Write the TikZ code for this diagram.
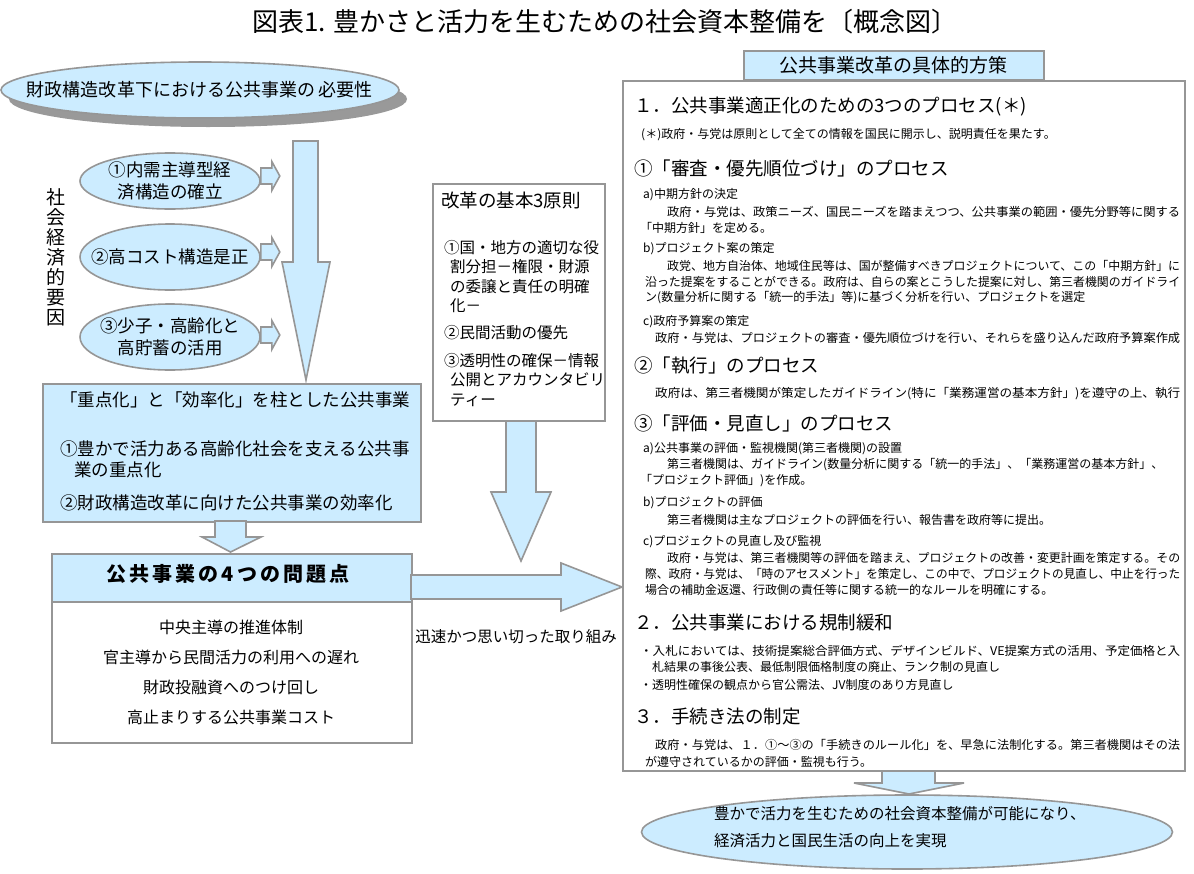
\documentclass[tikz,border=0pt]{standalone}
\usepackage{fontspec}
\usepackage{graphicx}
\setmainfont{Noto Sans CJK JP}
\usetikzlibrary{shapes.geometric,shadows,calc}
\definecolor{lb}{HTML}{CCECFF}
\definecolor{bd}{HTML}{969696}
\definecolor{sh}{HTML}{999999}
\newcommand\fitw[2]{\resizebox{#1pt}{\height}{#2}}
\begin{document}
\begin{tikzpicture}[x=1pt,y=-1pt,
 every node/.style={inner sep=0pt},
 boxb/.style={draw=bd, line width=1.6pt, fill=lb, anchor=north west},
 boxw/.style={draw=bd, line width=1.6pt, fill=white, anchor=north west},
 blk/.style={draw=bd, line width=1.6pt, fill=lb, line join=miter},
 oval/.style={ellipse, draw=bd, line width=1.6pt, fill=lb},
 ovt/.style={align=center, font=\fontsize{17.5}{22}\selectfont},
 sm/.style={anchor=west, font=\fontsize{12}{14}\selectfont},
 hd/.style={anchor=west, font=\fontsize{18.5}{22}\selectfont},
 lt/.style={anchor=west, font=\fontsize{17.5}{21}\selectfont},
 pr/.style={anchor=west, font=\fontsize{15.5}{19}\selectfont},
 pb/.style={font=\fontsize{16}{19}\selectfont},
 rarr/.pic={\draw[blk] (0,-8) -- (11,-8) -- (11,-14.5) -- (19,0) -- (11,14.5) -- (11,8) -- (0,8) -- cycle;}
]
\useasboundingbox[fill=white] (0,0) rectangle (1194,873);

% title
\node[font=\fontsize{26}{30}\selectfont] (title) at (605,22) {図表1. 豊かさと活力を生むための社会資本整備を〔概念図〕};

% top-left ellipse
\node[oval, minimum width=398, minimum height=56,
  drop shadow={shadow xshift=8pt, shadow yshift=-9pt, fill=sh, opacity=1}] (need) at (200,90) {};
\node[font=\fontsize{18}{22}\selectfont] (needt) at (need.center) {財政構造改革下における公共事業の\hspace{4pt}必要性};

% vertical label
\node[font=\fontsize{19}{20}\selectfont, align=center] (factor) at (56,257) {社\\会\\経\\済\\的\\要\\因};

% big down arrow
\draw[blk] (293,141) -- (318,141) -- (318,262) -- (330,262) -- (306,380) -- (282,262) -- (293,262) -- cycle;

% three factor ellipses
\node[oval, minimum width=180, minimum height=56] (e1) at (170,181) {};
\node[oval, minimum width=180, minimum height=66] (e2) at (170,257) {};
\node[oval, minimum width=180, minimum height=66] (e3) at (170,337) {};
\node[ovt] (e1t) at (e1.center) {①内需主導型経\\済構造の確立};
\node[ovt] (e2t) at (e2.center) {②高コスト構造是正};
\node[ovt] (e3t) at (e3.center) {③少子・高齢化と\\高貯蓄の活用};
\pic at ($(e1.east)+(0,-5)$) {rarr};
\pic at ($(e2.east)+(0,-5)$) {rarr};
\pic at ($(e3.east)+(0,-2)$) {rarr};

% focus box
\node[boxb, minimum width=378, minimum height=138] (focus) at (42,383) {};
\node[lt] (f0) at (60,400) {「重点化」と「効率化」を柱とした公共事業};
\node[lt] (f1) at (60,449) {①豊かで活力ある高齢化社会を支える公共事};
\node[lt] (f2) at (74,470) {業の重点化};
\node[lt] (f3) at (60,503) {②財政構造改革に向けた公共事業の効率化};

% small down arrow
\draw[blk] (215,521) -- (246,521) -- (246,537) -- (261,537) -- (230.5,552) -- (202,537) -- (215,537) -- cycle;

% problems box
\node[boxb, minimum width=360, minimum height=48] (probhead) at (51,553) {};
\node[boxw, minimum width=360, minimum height=141] (probbody) at (51,601) {};
\node[font=\fontsize{20}{24}\bfseries\addfontfeature{LetterSpace=15}\selectfont] (ph) at (228,574) {公共事業の4つの問題点};
\node[pb] (p1) at (231,627) {中央主導の推進体制};
\node[pb] (p2) at (231,657) {官主導から民間活力の利用への遅れ};
\node[pb] (p3) at (231,687) {財政投融資へのつけ回し};
\node[pb] (p4) at (231,717) {高止まりする公共事業コスト};

% right arrow
\draw[blk] (411,575) -- (561,575) -- (561,563) -- (622,587) -- (561,611) -- (561,599) -- (411,599) -- cycle;
\node[font=\fontsize{15.5}{19}\selectfont] (quick) at (516,637) {迅速かつ思い切った取り組み};

% principles box
\node[boxw, minimum width=172, minimum height=237] (gensoku) at (432,183) {};
\node[anchor=west, font=\fontsize{18.5}{22}\selectfont] (g0) at (441,200) {改革の基本3原則};
\node[pr] (g1) at (444,248) {①国・地方の適切な役};
\node[pr] (g2) at (450,267) {割分担－権限・財源};
\node[pr] (g3) at (450,287) {の委譲と責任の明確};
\node[pr] (g4) at (450,306) {化－};
\node[pr] (g5) at (444,333) {②民間活動の優先};
\node[pr] (g6) at (444,361) {③透明性の確保－情報};
\node[pr] (g7) at (450,380) {公開とアカウンタビリ};
\node[pr] (g8) at (450,400) {ティー};

% down arrow from principles
\draw[blk] (506,421) -- (536,421) -- (536,492) -- (551,492) -- (521,561) -- (491,492) -- (506,492) -- cycle;

% right panel
\node[boxw, minimum width=562, minimum height=690] (panel) at (622,80) {};
\node[boxb, minimum width=300, minimum height=29] (panelhead) at (743,50) {};
\node[font=\fontsize{19}{22}\selectfont] (panelt) at (893,65) {公共事業改革の具体的方策};

\node[hd] (h1) at (634,107) {１．公共事業適正化のための3つのプロセス(＊)};
\node[sm] (s1) at (641,135) {(＊)政府・与党は原則として全ての情報を国民に開示し、説明責任を果たす。};
\node[hd] (h2) at (634,168) {①「審査・優先順位づけ」のプロセス};
\node[sm] (s2) at (643,195) {a)中期方針の決定};
\node[sm] (s3) at (667,212) {\fitw{513}{政府・与党は、政策ニーズ、国民ニーズを踏まえつつ、公共事業の範囲・優先分野等に関する}};
\node[sm] (s4) at (640,228) {「中期方針」を定める。};
\node[sm] (s5) at (643,249) {b)プロジェクト案の策定};
\node[sm] (s6) at (667,266) {\fitw{513}{政党、地方自治体、地域住民等は、国が整備すべきプロジェクトについて、この「中期方針」に}};
\node[sm] (s7) at (645,282) {\fitw{535}{沿った提案をすることができる。政府は、自らの案とこうした提案に対し、第三者機関のガイドライ}};
\node[sm] (s8) at (645,298) {ン(数量分析に関する「統一的手法」等)に基づく分析を行い、プロジェクトを選定};
\node[sm] (s9) at (643,322) {c)政府予算案の策定};
\node[sm] (s10) at (655,338) {\fitw{525}{政府・与党は、プロジェクトの審査・優先順位づけを行い、それらを盛り込んだ政府予算案作成}};
\node[hd] (h3) at (634,366) {②「執行」のプロセス};
\node[sm] (s11) at (655,394) {\fitw{525}{政府は、第三者機関が策定したガイドライン(特に「業務運営の基本方針」)を遵守の上、執行}};
\node[hd] (h4) at (634,423) {③「評価・見直し」のプロセス};
\node[sm] (s12) at (643,449) {a)公共事業の評価・監視機関(第三者機関)の設置};
\node[sm] (s13) at (667,465) {第三者機関は、ガイドライン(数量分析に関する「統一的手法」、「業務運営の基本方針」、};
\node[sm] (s14) at (640,481) {「プロジェクト評価」)を作成。};
\node[sm] (s15) at (643,503) {b)プロジェクトの評価};
\node[sm] (s16) at (667,520) {第三者機関は主なプロジェクトの評価を行い、報告書を政府等に提出。};
\node[sm] (s17) at (643,542) {c)プロジェクトの見直し及び監視};
\node[sm] (s18) at (667,558) {\fitw{513}{政府・与党は、第三者機関等の評価を踏まえ、プロジェクトの改善・変更計画を策定する。その}};
\node[sm] (s19) at (645,574) {\fitw{535}{際、政府・与党は、「時のアセスメント」を策定し、この中で、プロジェクトの見直し、中止を行った}};
\node[sm] (s20) at (645,590) {場合の補助金返還、行政側の責任等に関する統一的なルールを明確にする。};
\node[hd] (h5) at (634,622) {２．公共事業における規制緩和};
\node[sm] (s21) at (640,651) {\fitw{540}{・入札においては、技術提案総合評価方式、デザインビルド、VE提案方式の活用、予定価格と入}};
\node[sm] (s22) at (652,667) {札結果の事後公表、最低制限価格制度の廃止、ランク制の見直し};
\node[sm] (s23) at (640,685) {・透明性確保の観点から官公需法、JV制度のあり方見直し};
\node[hd] (h6) at (634,716) {３．手続き法の制定};
\node[sm] (s24) at (655,745) {\fitw{525}{政府・与党は、１．①～③の「手続きのルール化」を、早急に法制化する。第三者機関はその法}};
\node[sm] (s25) at (645,762) {が遵守されているかの評価・監視も行う。};

% bottom arrow and goal ellipse
\draw[blk] (882,771) -- (935,771) -- (935,783) -- (964,783) -- (909,794) -- (854,783) -- (882,783) -- cycle;
\node[oval, minimum width=531, minimum height=74] (goal) at (907,832) {};
\node[anchor=west, align=left, font=\fontsize{15.5}{27}\selectfont] (goalt) at (714,827) {豊かで活力を生むための社会資本整備が可能になり、\\経済活力と国民生活の向上を実現};
\end{tikzpicture}
\end{document}
